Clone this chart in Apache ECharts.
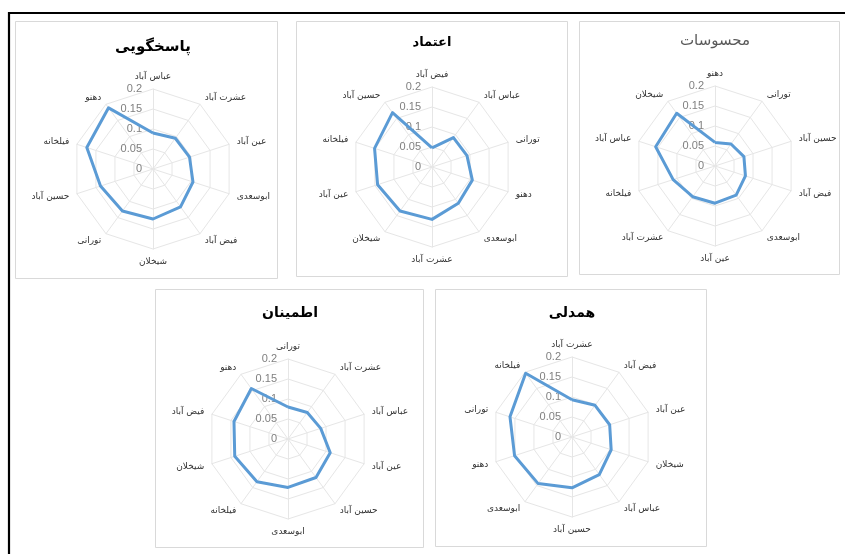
<!DOCTYPE html>
<html>
<head>
    <meta charset="UTF-8">
    <title>Radar</title>
    <script src="https://cdn.jsdelivr.net/npm/echarts@6.0.0/dist/echarts.min.js"></script>
    <style>
        html, body { margin: 0; padding: 0; background: #fff; }
        #chart { width: 845px; height: 554px; }
    </style>
</head>
<body>
    <div id="chart"></div>

    <script>
        // داده‌ها (به ترتیب ساعتگرد از بالا)
        const titles = ['پاسخگویی', 'اعتماد', 'محسوسات', 'اطمینان', 'همدلی'];

        const catsPasokh = ['عباس آباد', 'عشرت آباد', 'عین آباد', 'ابوسعدی', 'فیض آباد', 'شیخلان', 'تورانی', 'حسین آباد', 'فیلخانه', 'دهنو'];
        const valsPasokh = [0.090, 0.095, 0.096, 0.105, 0.117, 0.125, 0.130, 0.138, 0.174, 0.189];

        const catsEtemad = ['فیض آباد', 'عباس آباد', 'تورانی', 'دهنو', 'ابوسعدی', 'عشرت آباد', 'شیخلان', 'عین آباد', 'فیلخانه', 'حسین آباد'];
        const valsEtemad = [0.048, 0.091, 0.092, 0.106, 0.112, 0.131, 0.136, 0.143, 0.151, 0.168];

        const catsMahsus = ['دهنو', 'تورانی', 'حسین آباد', 'فیض آباد', 'ابوسعدی', 'عین آباد', 'عشرت آباد', 'فیلخانه', 'عباس آباد', 'شیخلان'];
        const valsMahsus = [0.059, 0.068, 0.076, 0.080, 0.090, 0.093, 0.095, 0.110, 0.156, 0.163];

        const catsEtminan = ['تورانی', 'عشرت آباد', 'عباس آباد', 'عین آباد', 'حسین آباد', 'ابوسعدی', 'فیلخانه', 'شیخلان', 'فیض آباد', 'دهنو'];
        const valsEtminan = [0.080, 0.082, 0.086, 0.111, 0.119, 0.121, 0.132, 0.140, 0.142, 0.156];

        const catsHamdeli = ['عشرت آباد', 'فیض آباد', 'عین آباد', 'شیخلان', 'عباس آباد', 'حسین آباد', 'ابوسعدی', 'دهنو', 'تورانی', 'فیلخانه'];
        const valsHamdeli = [0.093, 0.098, 0.099, 0.103, 0.116, 0.127, 0.144, 0.151, 0.163, 0.197];

        const axisTicks = [0, 0.05, 0.1, 0.15, 0.2];

        const allCats = [catsPasokh, catsEtemad, catsMahsus, catsEtminan, catsHamdeli];
        const allVals = [valsPasokh, valsEtemad, valsMahsus, valsEtminan, valsHamdeli];

        // جای نمودارها
        const panels = [
            { box: [15, 21, 262, 257], center: [153, 169], title: [153, 47], tStyle: { fontSize: 15, fontWeight: 'bold', fill: '#000' } },
            { box: [296, 21, 271, 255], center: [432, 167], title: [432, 43], tStyle: { fontSize: 13, fontWeight: 'bold', fill: '#000' } },
            { box: [579, 21, 260, 253], center: [715, 166], title: [715, 41], tStyle: { fontSize: 15, fontWeight: 'normal', fill: '#595959' } },
            { box: [155, 289, 268, 258], center: [288, 439], title: [290, 313], tStyle: { fontSize: 14, fontWeight: 'bold', fill: '#000' } },
            { box: [435, 289, 271, 257], center: [572, 437], title: [572, 313], tStyle: { fontSize: 14, fontWeight: 'bold', fill: '#000' } }
        ];

        // اکچارت رادار را پادساعتگرد می‌چیند؛ ترتیب را برمی‌گردانیم
        function ccw(arr) {
            return [arr[0]].concat(arr.slice(1).reverse());
        }

        const chart = echarts.init(document.getElementById('chart'), null, { renderer: 'canvas' });

        const radars = [];
        const series = [];
        const graphics = [];

        panels.forEach((p, k) => {
            graphics.push({
                type: 'rect',
                shape: { x: p.box[0] + 0.5, y: p.box[1] + 0.5, width: p.box[2], height: p.box[3] },
                style: { fill: '#fff', stroke: '#d9d9d9', lineWidth: 1 },
                z: -10
            });
            graphics.push({
                type: 'text',
                x: p.title[0],
                y: p.title[1],
                style: Object.assign({
                    text: titles[k],
                    align: 'center',
                    verticalAlign: 'middle',
                    fontFamily: 'DejaVu Sans'
                }, p.tStyle)
            });

            radars.push({
                center: p.center,
                radius: 80,
                startAngle: 90,
                shape: 'polygon',
                splitNumber: axisTicks.length - 1,
                indicator: ccw(allCats[k]).map((n, i) => {
                    const ind = { name: n, min: axisTicks[0], max: axisTicks[axisTicks.length - 1] };
                    if (i === 0) ind.axisLabel = { show: true };
                    return ind;
                }),
                nameGap: 8,
                axisName: { color: '#333', fontSize: 9, fontFamily: 'DejaVu Sans' },
                axisLine: { lineStyle: { color: '#e6e6e6', width: 1 } },
                axisTick: { show: false },
                splitLine: { lineStyle: { color: '#e6e6e6', width: 1 } },
                splitArea: { show: false },
                axisLabel: { show: false, color: '#808080', fontSize: 11, fontFamily: 'Liberation Sans', margin: 11 }
            });

            series.push({
                type: 'radar',
                radarIndex: k,
                symbol: 'none',
                lineStyle: { color: '#5b9bd5', width: 3, join: 'round' },
                data: [{ value: ccw(allVals[k]) }]
            });
        });

        // قاب سیاه
        graphics.push({
            type: 'line',
            shape: { x1: 8, y1: 13, x2: 845, y2: 13 },
            style: { stroke: '#000', lineWidth: 2.2 }
        });
        graphics.push({
            type: 'line',
            shape: { x1: 9, y1: 12, x2: 9, y2: 554 },
            style: { stroke: '#000', lineWidth: 2.2 }
        });

        chart.setOption({
            animation: false,
            backgroundColor: '#fff',
            graphic: graphics,
            radar: radars,
            series: series
        });
    </script>
</body>
</html>
